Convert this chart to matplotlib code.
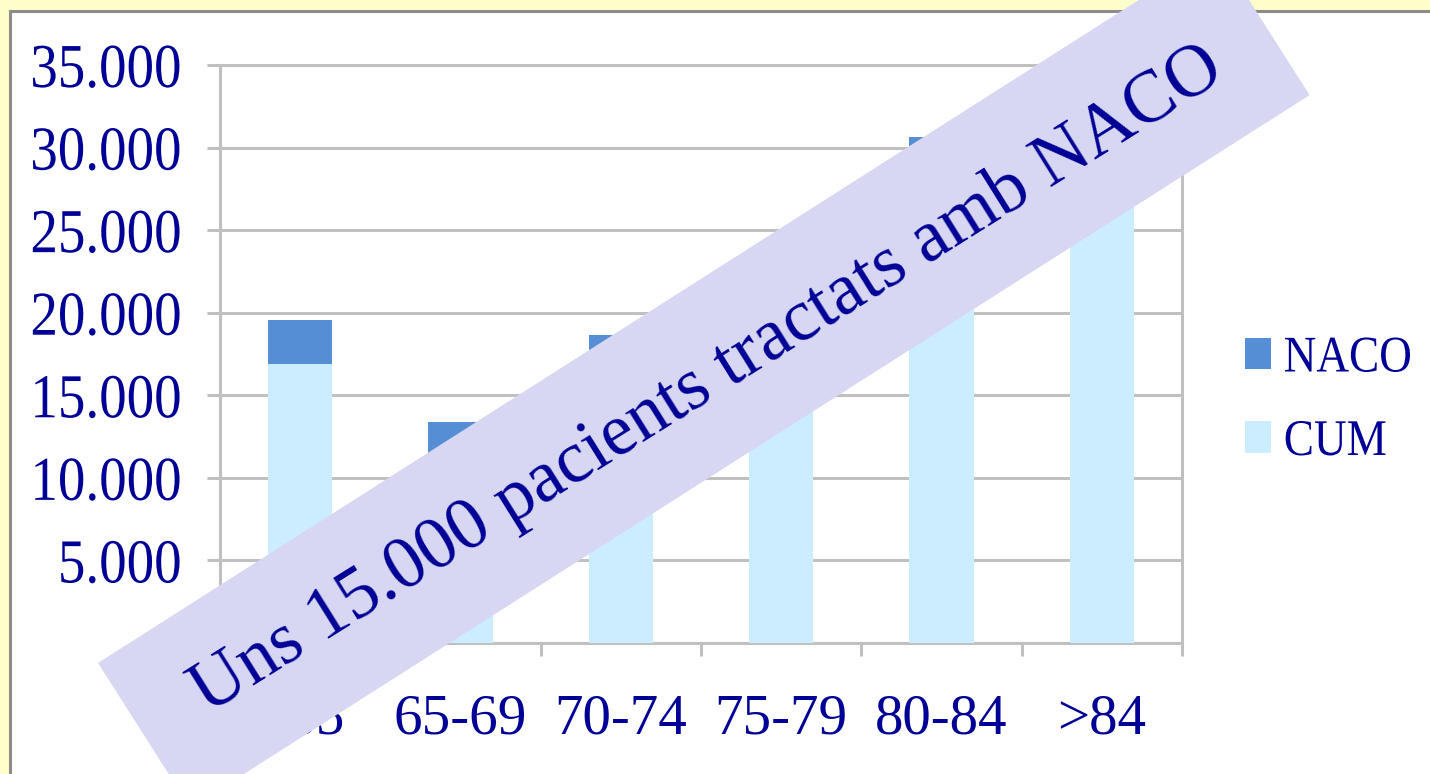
import matplotlib
matplotlib.use("Agg")
import matplotlib.pyplot as plt
import numpy as np
from matplotlib.patches import Rectangle, Polygon
from matplotlib.patheffects import AbstractPathEffect
from matplotlib.transforms import Affine2D

# ---- data -------------------------------------------------------------
categories = ["<65", "65-69", "70-74", "75-79", "80-84", ">84"]
cum = [16900, 11350, 16050, 21000, 27650, 29500]
naco = [2650, 2050, 2600, 2900, 3000, 1800]
yticks = [0, 5000, 10000, 15000, 20000, 25000, 30000, 35000]
ytick_labels = ["0", "5.000", "10.000", "15.000", "20.000", "25.000", "30.000", "35.000"]
banner_text = "Uns 15.000 pacients tractats amb NACO"

# ---- style ------------------------------------------------------------
NAVY = "#000096"
GRID = "#C0C0C0"
C_CUM = "#CCECFF"
C_NACO = "#558ED5"
SERIF = "Liberation Serif"

W, H = 1430, 774


def fx(px):
    return px / W


def fy(py):
    return 1 - py / H


class Condense(AbstractPathEffect):
    """Squeeze glyph outlines horizontally (narrow typeface look)."""

    def __init__(self, sx, anchor="center"):
        super().__init__()
        self.sx = sx
        self.anchor = anchor

    def draw_path(self, renderer, gc, tpath, affine, rgbFace=None):
        if len(tpath.vertices) == 0:
            return
        ext = tpath.get_extents()
        if self.anchor == "left":
            c = ext.x0
        elif self.anchor == "right":
            c = ext.x1
        else:
            c = 0.5 * (ext.x0 + ext.x1)
        squeeze = Affine2D().translate(-c, 0).scale(self.sx, 1).translate(c, 0)
        renderer.draw_path(gc, tpath, squeeze + affine, rgbFace)


fig = plt.figure(figsize=(W / 100, H / 100), dpi=100)
fig.patch.set_facecolor("#FFFFCC")

# white slide panel with grey frame
fig.patches.append(Rectangle((fx(9.5), fy(800)), 1.1, fy(11) - fy(800),
                             transform=fig.transFigure, facecolor="white",
                             edgecolor="#8C8C8C", linewidth=2.2, zorder=-5))

ax = fig.add_axes([fx(220), fy(643), fx(1182) - fx(220), fy(65) - fy(643)])
ax.set_facecolor("none")
x = np.arange(len(categories))
b_cum = ax.bar(x, cum, width=0.4, color=C_CUM, label="CUM", zorder=3)
b_naco = ax.bar(x, naco, bottom=cum, width=0.4, color=C_NACO, label="NACO", zorder=3)

ax.set_xlim(-0.5, len(categories) - 0.5)
ax.set_ylim(0, 35000)
ax.set_yticks(yticks, ytick_labels)
ax.yaxis.grid(True, color=GRID, linewidth=2.2)
ax.set_axisbelow(True)
for s in ax.spines.values():
    s.set_color(GRID)
    s.set_linewidth(2.2)

ax.set_xticks(x, categories)
ax.set_xticks(np.arange(-0.5, len(categories), 1), minor=True)
ax.tick_params(axis="x", which="major", length=0, pad=36)
ax.tick_params(axis="x", which="minor", length=9.4, width=2.2, color=GRID)
ax.tick_params(axis="y", length=9.4, width=2.2, color=GRID, pad=18)

for lab in ax.get_yticklabels():
    lab.set_fontfamily(SERIF)
    lab.set_fontsize(45)
    lab.set_color(NAVY)
    lab.set_path_effects([Condense(0.88, "right")])
for lab in ax.get_xticklabels():
    lab.set_fontfamily(SERIF)
    lab.set_fontsize(41)
    lab.set_color(NAVY)

leg = ax.legend([b_naco, b_cum], ["NACO", "CUM"], loc="upper left",
                bbox_to_anchor=(fx(1245), fy(336)), bbox_transform=fig.transFigure,
                frameon=False, borderpad=0, borderaxespad=0,
                handlelength=0.5, handleheight=0.57, handletextpad=0.25,
                labelspacing=0.72, prop={"family": SERIF, "size": 37},
                labelcolor=NAVY)
for t in leg.get_texts():
    t.set_path_effects([Condense(0.88, "left")])

# diagonal banner over the chart
ang = np.deg2rad(32.5)
left_corner = np.array([98.0, 663.0])
length, width = 1327.0, 172.0
u = np.array([np.cos(ang), -np.sin(ang)])
v = np.array([np.sin(ang), np.cos(ang)])
corners = [left_corner, left_corner + length * u,
           left_corner + length * u + width * v, left_corner + width * v]
fig.patches.append(Polygon([(fx(p[0]), fy(p[1])) for p in corners], closed=True,
                           transform=fig.transFigure, facecolor="#D7D7F3",
                           edgecolor="none", zorder=10))
center = left_corner + 0.5 * length * u + 0.5 * width * v
fig.text(fx(center[0] + 4), fy(center[1] + 2), banner_text, rotation=32.0,
         rotation_mode="anchor", ha="center", va="center", fontsize=53,
         family=SERIF, color=NAVY, zorder=11)

fig.savefig("out.png", dpi=100, facecolor=fig.get_facecolor())
